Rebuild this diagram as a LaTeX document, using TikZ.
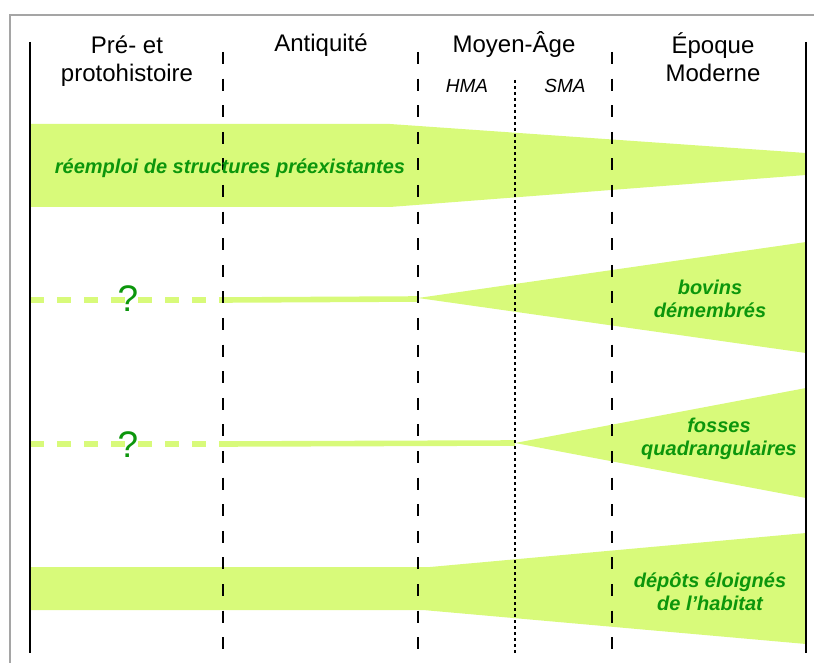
\documentclass[tikz,border=0pt]{standalone}
\usepackage{fontspec}
\setmainfont{Liberation Sans}
\usepackage{xcolor}
\usepackage{tikz}
\usetikzlibrary{positioning}
\definecolor{bandfill}{RGB}{216,250,122}
\definecolor{bandtext}{RGB}{12,150,12}
\definecolor{framegray}{RGB}{165,165,165}

\begin{document}
\begin{tikzpicture}[x=0.5pt,y=-0.5pt,
    period/.style={font=\fontsize{12}{14}\selectfont,align=center},
    subperiod/.style={font=\fontsize{9.5}{11}\selectfont\itshape},
    bandlabel/.style={text=bandtext,font=\fontsize{10}{11.5}\selectfont\bfseries\itshape,align=center},
    query/.style={text=bandtext,font=\fontsize{18.5}{20}\selectfont},
    band/.style={fill=bandfill,draw=none},
    limit/.style={line width=1pt},
    divide/.style={line width=1pt,dash pattern=on 6pt off 7.3pt},
    subdivide/.style={line width=1pt,dash pattern=on 1.5pt off 1.5pt},
    uncertain/.style={bandfill,line width=3.3pt,dash pattern=on 6.75pt off 6.75pt},
    trace/.style={bandfill,line width=2.8pt}]
  \useasboundingbox (0,0) rectangle (814,663);
  \draw[framegray,line width=1pt] (10,663) -- (10,15) -- (814,15);

  % bands
  \path[band] (30,124) -- (390,124) -- (806,153) -- (806,175) -- (390,207) -- (30,207) -- cycle;
  \path[band] (418,298) -- (806,242) -- (806,353) -- cycle;
  \path[band] (515,443) -- (806,388) -- (806,498) -- cycle;
  \path[band] (30,567) -- (430,567) -- (806,533) -- (806,644) -- (423,610) -- (30,610) -- cycle;
  \draw[uncertain] (30,300) -- (223,300);
  \draw[trace] (223,300) -- (418,299);
  \draw[uncertain] (30,444) -- (223,444);
  \draw[trace] (223,444) -- (515,443);

  % period limits
  \draw[limit] (30,42) -- (30,653);
  \draw[limit] (806,42) -- (806,653);
  \draw[divide] (223,52) -- (223,655);
  \draw[divide] (418,52) -- (418,655);
  \draw[divide] (612,52) -- (612,655);
  \draw[subdivide] (515,80) -- (515,655);

  % headings
  \node[period] (prehist) at (127,61) {Pré- et\\protohistoire};
  \node[period,anchor=base] (antiq) at (321,52) {Antiquité};
  \node[period,anchor=base] (moyen) at (514,53) {Moyen-Âge};
  \node[period] (moderne) at (713,57) {Époque\\Moderne};
  \node[subperiod,anchor=base] (hma) at (467,93) {HMA};
  \node[subperiod,anchor=base] (sma) at (565,93) {SMA};

  % band labels
  \node[bandlabel] (reemploi) at (230,168) {réemploi de structures préexistantes};
  \node[bandlabel] (bovins) at (710,299) {bovins\\démembrés};
  \node[bandlabel] (fosses) at (719,439) {fosses\\quadrangulaires};
  \node[bandlabel] (depots) at (710,592) {dépôts éloignés\\de l’habitat};
  \node[query] (qbovins) at (128,299) {?};
  \node[query] (qfosses) at (128,445) {?};
\end{tikzpicture}
\end{document}
